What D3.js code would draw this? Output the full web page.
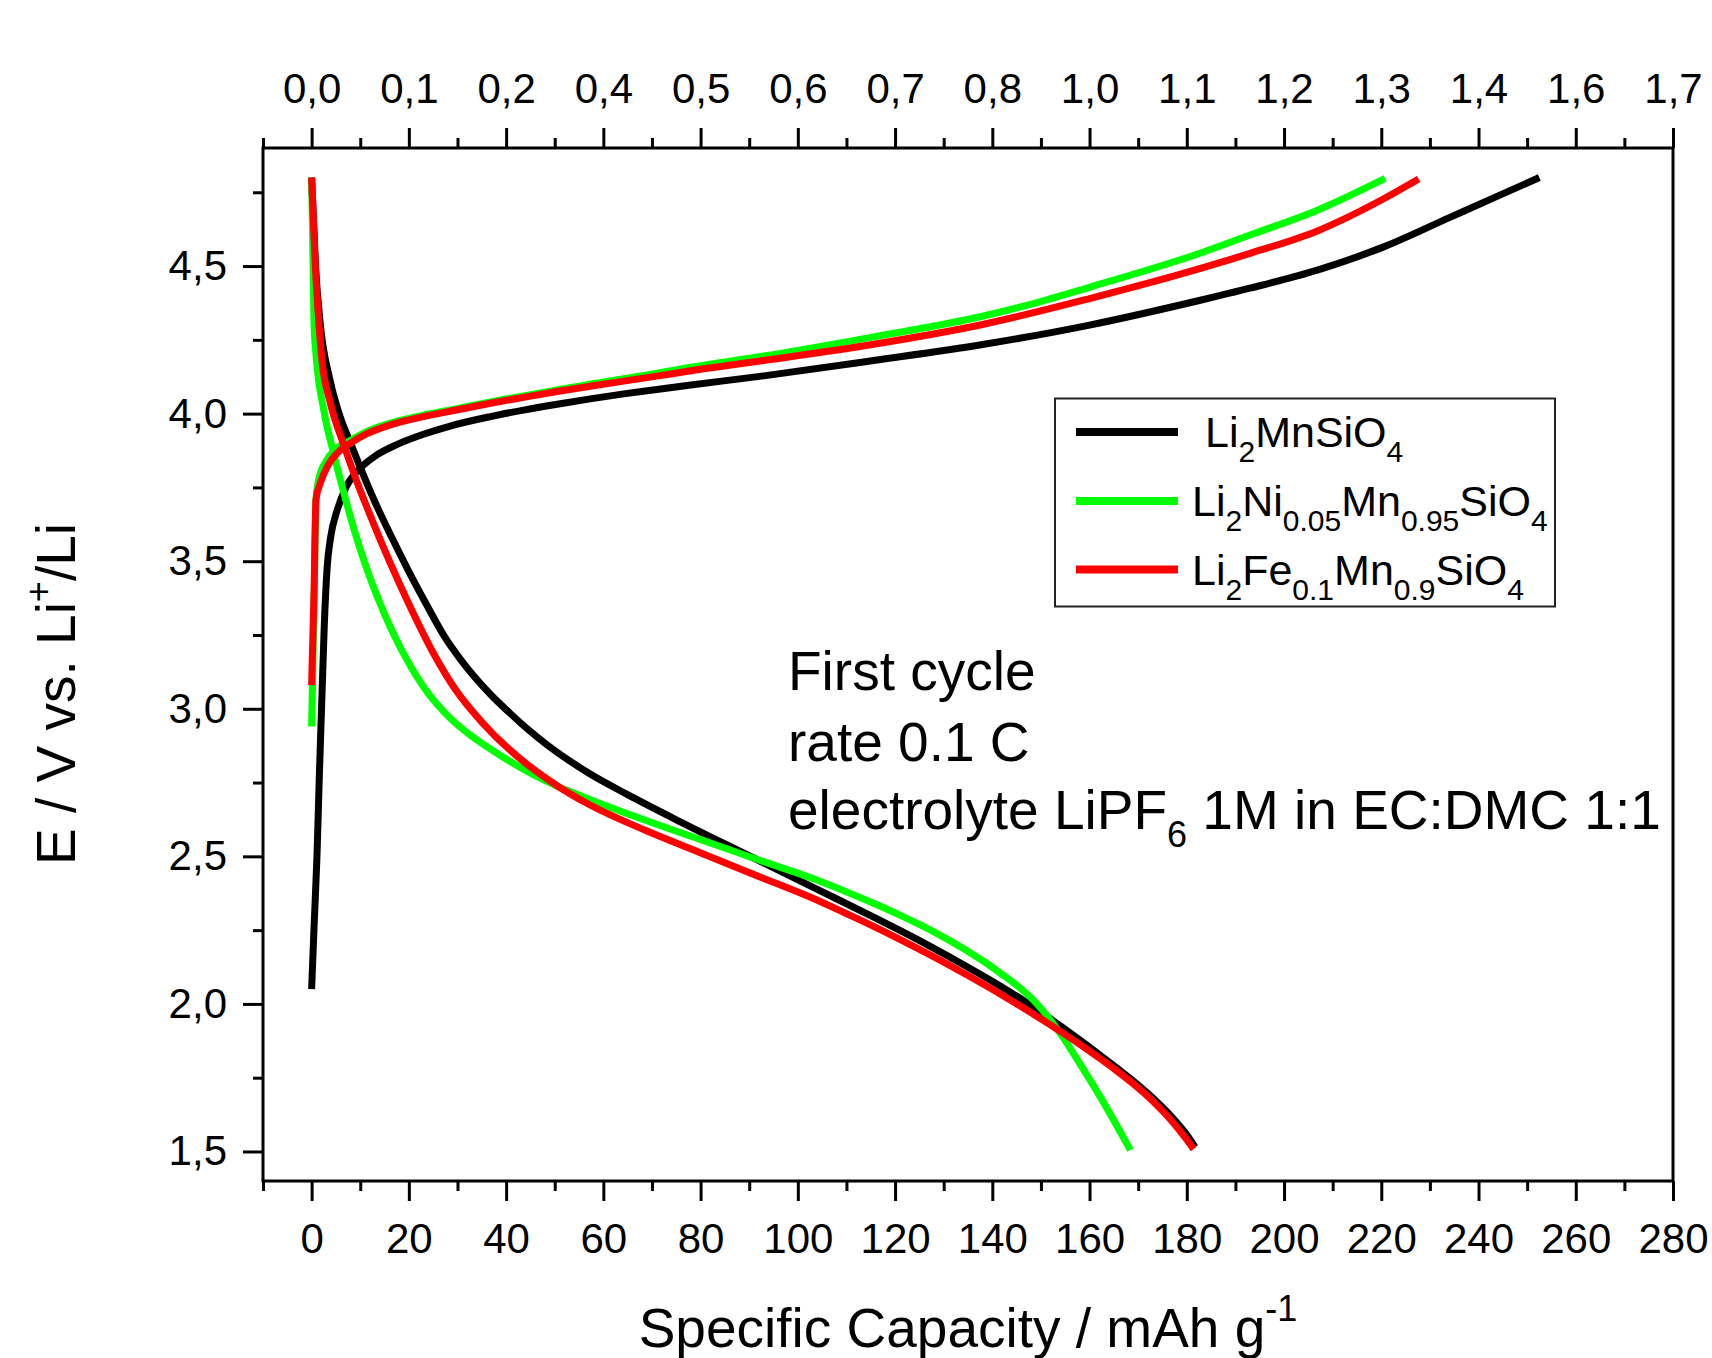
<!DOCTYPE html>
<html>
<head>
<meta charset="utf-8">
<script src="https://d3js.org/d3.v7.min.js"></script>
<style>
  html, body { margin: 0; padding: 0; background: #fff; }
  svg { display: block; }
  text { font-family: "Liberation Sans", Arial, Helvetica, sans-serif; fill: #000; }
</style>
</head>
<body>
<svg id="chart" width="1712" height="1358"></svg>
<script>
// ---- data: first-cycle charge / discharge curves, [capacity mAh/g, potential V] ----
const mnCharge = [[0,2.05],[0.5,2.26],[1.1,2.5],[1.6,2.78],[2.1,3.03],[2.6,3.28],[3.2,3.48],[3.9,3.58],[5.2,3.67],[7.2,3.755],[10,3.815],[13.4,3.86],[17.5,3.895],[23,3.93],[28.5,3.958],[36.8,3.99],[43.6,4.012],[50.5,4.032],[57.3,4.05],[64.2,4.067],[71,4.082],[78,4.097],[93,4.128],[115.6,4.18],[138,4.234],[160,4.3],[183,4.385],[193,4.425],[207,4.487],[220.5,4.565],[234,4.664],[243,4.73],[252.5,4.8]];
const mnDischarge = [[0,4.8],[0.8,4.5],[1.8,4.3],[3.85,4.109],[5.9,3.988],[8,3.9],[10,3.818],[12.8,3.709],[16.5,3.58],[20,3.465],[23.4,3.36],[27.5,3.24],[30.5,3.17],[33.4,3.11],[37,3.045],[40.8,2.985],[44.5,2.93],[48.4,2.878],[56.7,2.785],[65,2.709],[74.4,2.629],[88.6,2.513],[103.9,2.389],[115.7,2.293],[121.1,2.248],[127.9,2.189],[134.8,2.126],[141.7,2.06],[147.1,2.004],[151.9,1.95],[157.4,1.885],[162.2,1.826],[167.7,1.756],[170.5,1.718],[173.3,1.677],[176,1.633],[178.5,1.587],[180.3,1.55],[181.7,1.515]];

const niCharge = [[0,2.94],[0.5,3.35],[0.9,3.71],[1.5,3.78],[3,3.84],[5,3.88],[8,3.91],[11.4,3.94],[16.2,3.968],[23,3.995],[30,4.017],[36.8,4.04],[43.6,4.06],[50.5,4.08],[57.3,4.1],[64.2,4.118],[71,4.137],[78,4.157],[93,4.195],[115.6,4.26],[138,4.33],[149,4.375],[160,4.428],[183,4.545],[193,4.605],[207,4.69],[220.8,4.797]];
const niDischarge = [[0,4.8],[0.3,4.5],[0.5,4.3],[0.9,4.2],[2.5,4.012],[4.5,3.867],[6.6,3.733],[8.6,3.615],[10.8,3.5],[13.5,3.38],[16.8,3.255],[20.5,3.14],[23,3.075],[25.8,3.015],[29,2.96],[33.1,2.905],[39,2.84],[44.9,2.783],[50.8,2.736],[56.7,2.696],[68.5,2.623],[80.3,2.555],[92.1,2.487],[103.9,2.42],[115.7,2.34],[121.1,2.3],[127.9,2.245],[134.8,2.18],[138,2.147],[142,2.1],[145.5,2.057],[148.5,2.012],[151.5,1.955],[154.5,1.888],[158.1,1.795],[162.2,1.685],[168.4,1.505]];

const feCharge = [[0,3.08],[0.5,3.4],[0.9,3.71],[1.8,3.765],[3.2,3.82],[5.2,3.865],[8,3.9],[11.4,3.932],[16.2,3.962],[23,3.99],[30,4.013],[36.8,4.035],[43.6,4.055],[50.5,4.075],[57.3,4.093],[64.2,4.11],[71,4.127],[78,4.145],[93,4.18],[115.6,4.235],[138,4.302],[160,4.39],[183,4.493],[193,4.543],[207,4.62],[220.5,4.728],[227.7,4.795]];
const feDischarge = [[0,4.8],[0.76,4.5],[1.45,4.315],[2.13,4.18],[3.85,4.036],[6.6,3.895],[9.3,3.77],[12.8,3.625],[16,3.5],[20,3.355],[25,3.19],[29.8,3.06],[35,2.955],[44.9,2.804],[50.8,2.736],[56.7,2.679],[68.5,2.589],[80.3,2.51],[92.1,2.431],[103.9,2.352],[110,2.306],[115.7,2.262],[121.1,2.218],[127.9,2.16],[134.8,2.098],[141.7,2.033],[148.5,1.965],[154,1.907],[159.5,1.846],[164.9,1.782],[170.4,1.71],[173.2,1.668],[175.9,1.622],[178.2,1.578],[180,1.54],[181.4,1.508]];

// series names as [text, isSubscript] pieces
const seriesNames = [
  [["Li",false],["2",true],["MnSiO",false],["4",true]],
  [["Li",false],["2",true],["Ni",false],["0.05",true],["Mn",false],["0.95",true],["SiO",false],["4",true]],
  [["Li",false],["2",true],["Fe",false],["0.1",true],["Mn",false],["0.9",true],["SiO",false],["4",true]]
];
const seriesColors = ["#000000", "#00ff00", "#ff0000"];

// ticks
const bottomTicks = [0,20,40,60,80,100,120,140,160,180,200,220,240,260,280];
const bottomMinor = [-10,10,30,50,70,90,110,130,150,170,190,210,230,250,270];
const topTickLabels = ["0,0","0,1","0,2","0,4","0,5","0,6","0,7","0,8","1,0","1,1","1,2","1,3","1,4","1,6","1,7"];
const leftTicks = [1.5,2.0,2.5,3.0,3.5,4.0,4.5];
const leftMinor = [1.75,2.25,2.75,3.25,3.75,4.25,4.75];

const noteLines = ["First cycle", "rate 0.1 C"];

// ---- layout ----
const svg = d3.select("#chart");
svg.append("rect").attr("width", 1712).attr("height", 1358).attr("fill", "#fff");

const x = d3.scaleLinear().domain([-10, 280]).range([263, 1673]);
const y = d3.scaleLinear().domain([1.4, 4.9]).range([1181, 148]);
const comma = d => d.toFixed(1).replace(".", ",");

function styleAxis(g) {
  g.select(".domain").remove();
  g.selectAll(".tick line").attr("stroke", "#000").attr("stroke-width", 3);
  g.selectAll(".tick text").attr("font-size", 42).attr("fill", "#000")
    .style("font-family", '"Liberation Sans", Arial, sans-serif');
}

// bottom axis
svg.append("g").attr("transform", "translate(0,1181)")
  .call(d3.axisBottom(x).tickValues(bottomMinor).tickSize(10).tickFormat(""))
  .call(styleAxis);
svg.append("g").attr("transform", "translate(0,1181)")
  .call(d3.axisBottom(x).tickValues(bottomTicks).tickSize(20).tickPadding(22).tickFormat(d3.format("d")))
  .call(styleAxis);

// top axis (same positions, second unit)
svg.append("g").attr("transform", "translate(0,148)")
  .call(d3.axisTop(x).tickValues(bottomMinor).tickSize(10).tickFormat(""))
  .call(styleAxis);
svg.append("g").attr("transform", "translate(0,148)")
  .call(d3.axisTop(x).tickValues(bottomTicks).tickSize(20).tickPadding(25)
    .tickFormat((d, i) => topTickLabels[i]))
  .call(styleAxis);

// left axis
svg.append("g").attr("transform", "translate(263,0)")
  .call(d3.axisLeft(y).tickValues(leftMinor).tickSize(10).tickFormat(""))
  .call(styleAxis);
svg.append("g").attr("transform", "translate(263,0)")
  .call(d3.axisLeft(y).tickValues(leftTicks).tickSize(20).tickPadding(16).tickFormat(comma))
  .call(styleAxis);

// plot frame
svg.append("rect")
  .attr("x", x(-10)).attr("y", y(4.9))
  .attr("width", x(280) - x(-10)).attr("height", y(1.4) - y(4.9))
  .attr("fill", "none").attr("stroke", "#000").attr("stroke-width", 3);

// curves
const line = d3.line().x(d => x(d[0])).y(d => y(d[1])).curve(d3.curveMonotoneX);
const curves = [
  [mnCharge, 0], [mnDischarge, 0],
  [niCharge, 1], [niDischarge, 1],
  [feCharge, 2], [feDischarge, 2]
];
svg.append("g").selectAll("path").data(curves).join("path")
  .attr("d", d => line(d[0]))
  .attr("fill", "none")
  .attr("stroke", d => seriesColors[d[1]])
  .attr("stroke-width", 7)
  .attr("stroke-linejoin", "round");

// legend
const legend = svg.append("g");
legend.append("rect")
  .attr("x", 1055).attr("y", 398.5).attr("width", 500).attr("height", 208)
  .attr("fill", "#fff").attr("stroke", "#222").attr("stroke-width", 2);
const rowY = [432, 501, 569.5];
const textX = [1205, 1192, 1192];
seriesNames.forEach((parts, i) => {
  legend.append("line")
    .attr("x1", 1076).attr("x2", 1178).attr("y1", rowY[i]).attr("y2", rowY[i])
    .attr("stroke", seriesColors[i]).attr("stroke-width", 8);
  const t = legend.append("text").attr("x", textX[i]).attr("y", rowY[i] + 15)
    .attr("font-size", 43);
  let shifted = false;
  parts.forEach(([s, sub]) => {
    const ts = t.append("tspan").text(s).attr("font-size", sub ? 30 : 43);
    if (sub && !shifted) { ts.attr("dy", 15); shifted = true; }
    else if (!sub && shifted) { ts.attr("dy", -15); shifted = false; }
  });
});

// annotation
const note = svg.append("g");
noteLines.forEach((s, i) => {
  note.append("text").attr("x", 788).attr("y", [690, 761][i]).attr("font-size", 55).text(s);
});
const t3 = note.append("text").attr("x", 788).attr("y", 829).attr("font-size", 55);
t3.append("tspan").text("electrolyte LiPF");
t3.append("tspan").text("6").attr("font-size", 36).attr("dy", 18);
t3.append("tspan").text(" 1M in EC:DMC 1:1").attr("dy", -18);

// axis titles
const xt = svg.append("text").attr("x", 968).attr("y", 1347)
  .attr("text-anchor", "middle").attr("font-size", 55);
xt.append("tspan").text("Specific Capacity / mAh g");
xt.append("tspan").text("-1").attr("font-size", 36).attr("dy", -26);

const yt = svg.append("text").attr("transform", "translate(75,694) rotate(-90)")
  .attr("text-anchor", "middle").attr("font-size", 55);
yt.append("tspan").text("E / V vs. Li");
yt.append("tspan").text("+").attr("font-size", 36).attr("dy", -24);
yt.append("tspan").text("/Li").attr("dy", 24);
</script>
</body>
</html>
